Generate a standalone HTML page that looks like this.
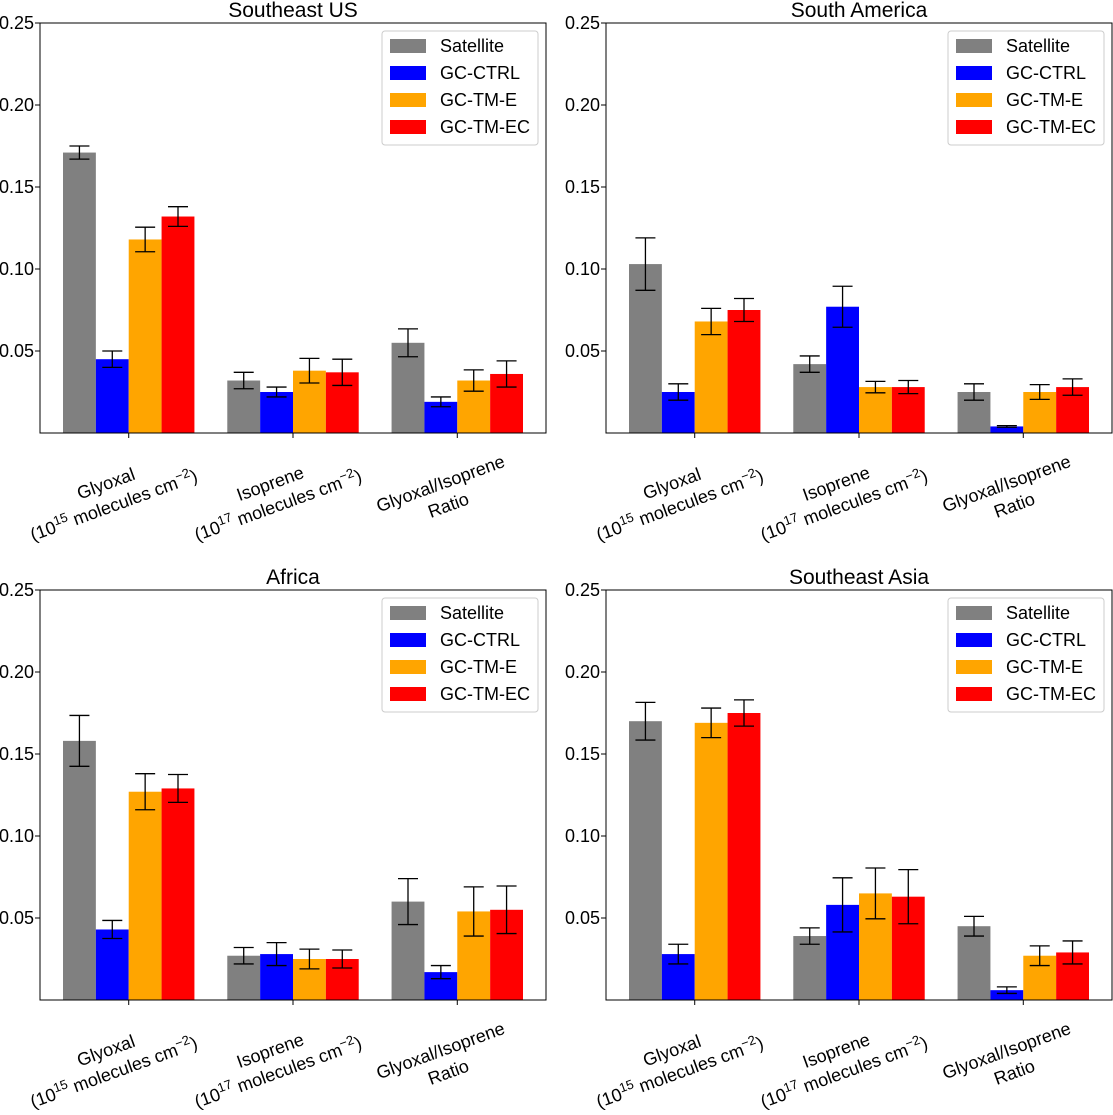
<!DOCTYPE html>
<html><head><meta charset="utf-8"><style>
body{margin:0;background:#fff}
text{font-family:"Liberation Sans",Arial,sans-serif;fill:#000}
</style></head><body>
<svg id="chart" width="1113" height="1110" viewBox="0 0 1113 1110" xmlns="http://www.w3.org/2000/svg"></svg>
<script>
const categories = ["Glyoxal","Isoprene","Glyoxal/Isoprene Ratio"];
const seriesNames = ["Satellite","GC-CTRL","GC-TM-E","GC-TM-EC"];
const seriesColors = ["#808080","#0000ff","#ffa500","#ff0000"];
const panelTitles = ["Southeast US","South America","Africa","Southeast Asia"];
const yTicks = [0.05,0.10,0.15,0.20,0.25];
const yTickLabels = ["0.05","0.10","0.15","0.20","0.25"];
// values[panel][series][category]
const seUSValues = [[0.171,0.032,0.055],[0.045,0.025,0.019],[0.118,0.038,0.032],[0.132,0.037,0.036]];
const seUSErrors = [[0.004,0.005,0.0085],[0.005,0.003,0.003],[0.0075,0.0075,0.0065],[0.006,0.008,0.008]];
const saValues = [[0.103,0.042,0.025],[0.025,0.077,0.004],[0.068,0.028,0.025],[0.075,0.028,0.028]];
const saErrors = [[0.016,0.005,0.005],[0.005,0.0125,0.0005],[0.008,0.0035,0.0045],[0.007,0.004,0.005]];
const afValues = [[0.158,0.027,0.060],[0.043,0.028,0.017],[0.127,0.025,0.054],[0.129,0.025,0.055]];
const afErrors = [[0.0155,0.005,0.014],[0.0055,0.007,0.004],[0.011,0.006,0.015],[0.0085,0.0055,0.0145]];
const asValues = [[0.170,0.039,0.045],[0.028,0.058,0.006],[0.169,0.065,0.027],[0.175,0.063,0.029]];
const asErrors = [[0.0115,0.005,0.006],[0.006,0.0165,0.002],[0.009,0.0155,0.006],[0.008,0.0165,0.007]];
const allValues = [seUSValues,saValues,afValues,asValues];
const allErrors = [seUSErrors,saErrors,afErrors,asErrors];

const NS="http://www.w3.org/2000/svg";
const svg=document.getElementById('chart');
function mk(tag,attrs,parent){const e=document.createElementNS(NS,tag);for(const k in attrs)e.setAttribute(k,attrs[k]);(parent||svg).appendChild(e);return e;}
const panels=[{l:40,t:23},{l:606,t:23},{l:40,t:590},{l:606,t:590}];
const W=506,H=410,xmin=-0.54,xmax=2.54,bw=0.2;
panels.forEach((p,pi)=>{
  const g=mk('g',{});
  
  
  const X=v=>p.l+(v-xmin)/(xmax-xmin)*W;
  const Y=v=>p.t+H-v/0.25*H;
  allValues[pi].forEach((ser,si)=>{
    ser.forEach((v,ci)=>{
      const c=ci+(si-1.5)*bw;
      const r=mk('rect',{x:X(c-bw/2),y:Y(v),width:X(c+bw/2)-X(c-bw/2),height:Y(0)-Y(v),fill:seriesColors[si]},g);
      
      
    });
  });
  allErrors[pi].forEach((ser,si)=>{
    ser.forEach((e,ci)=>{
      const v=allValues[pi][si][ci];const cx=X(ci+(si-1.5)*bw);
      const eb=mk('g',{stroke:'#000','stroke-width':1.3},g);
      
      
      mk('line',{x1:cx,x2:cx,y1:Y(v-e),y2:Y(v+e)},eb);
      mk('line',{x1:cx-10,x2:cx+10,y1:Y(v-e),y2:Y(v-e)},eb);
      mk('line',{x1:cx-10,x2:cx+10,y1:Y(v+e),y2:Y(v+e)},eb);
    });
  });
  const frame=mk('rect',{x:p.l,y:p.t,width:W,height:H,fill:'none',stroke:'#000','stroke-width':1},g);
  
  
  yTicks.forEach((t,i)=>{
    mk('line',{x1:p.l-5,x2:p.l,y1:Y(t),y2:Y(t),stroke:'#000'},g);
    const tx=mk('text',{x:p.l-6,y:Y(t)+6,'text-anchor':'end','font-size':18},g);
    tx.textContent=yTickLabels[i];
    
    
  });
  const tt=mk('text',{x:p.l+W/2,y:p.t-6,'text-anchor':'middle','font-size':21},g);
  tt.textContent=panelTitles[pi];
  
  
  const labs=[["Glyoxal","(10","15"," molecules cm","−2",")"],["Isoprene","(10","17"," molecules cm","−2",")"],["Glyoxal/Isoprene","Ratio"]];
  labs.forEach((lb,ci)=>{
    const cx=X(ci);
    mk('line',{x1:cx,x2:cx,y1:p.t+H,y2:p.t+H+5,stroke:'#000'},g);
    const off=ci<2?-19:-13;
    const lg=mk('g',{transform:`translate(${cx+off},${p.t+H+61}) rotate(-20)`},g);
    
    
    const t1=mk('text',{x:0,y:-5,'text-anchor':'middle','font-size':18},lg);
    t1.textContent=lb[0];
    const t2=mk('text',{x:0,y:18,'text-anchor':'middle','font-size':18},lg);
    if(lb.length>2){
      t2.appendChild(document.createTextNode(lb[1]));
      const s1=mk('tspan',{'font-size':13,dy:-7},t2);s1.textContent=lb[2];
      const s2=mk('tspan',{dy:7},t2);s2.textContent=lb[3];
      const s3=mk('tspan',{'font-size':13,dy:-7},t2);s3.textContent=lb[4];
      const s4=mk('tspan',{dy:7},t2);s4.textContent=lb[5];
    } else t2.textContent=lb[1];
  });
  const lx=p.l+W-164,ly=p.t+8;
  const lgd=mk('g',{},g);
  
  
  mk('rect',{x:lx,y:ly,width:156,height:114,rx:3,fill:'#fff',stroke:'#ccc'},lgd);
  seriesNames.forEach((n,si)=>{
    const yy=ly+15+si*27;
    const e=mk('g',{},lgd);
    
    
    mk('rect',{x:lx+8,y:yy-7,width:36,height:14,fill:seriesColors[si]},e);
    const t=mk('text',{x:lx+58,y:yy+6,'font-size':18},e);t.textContent=n;
  });
});
</script>
</body></html>
